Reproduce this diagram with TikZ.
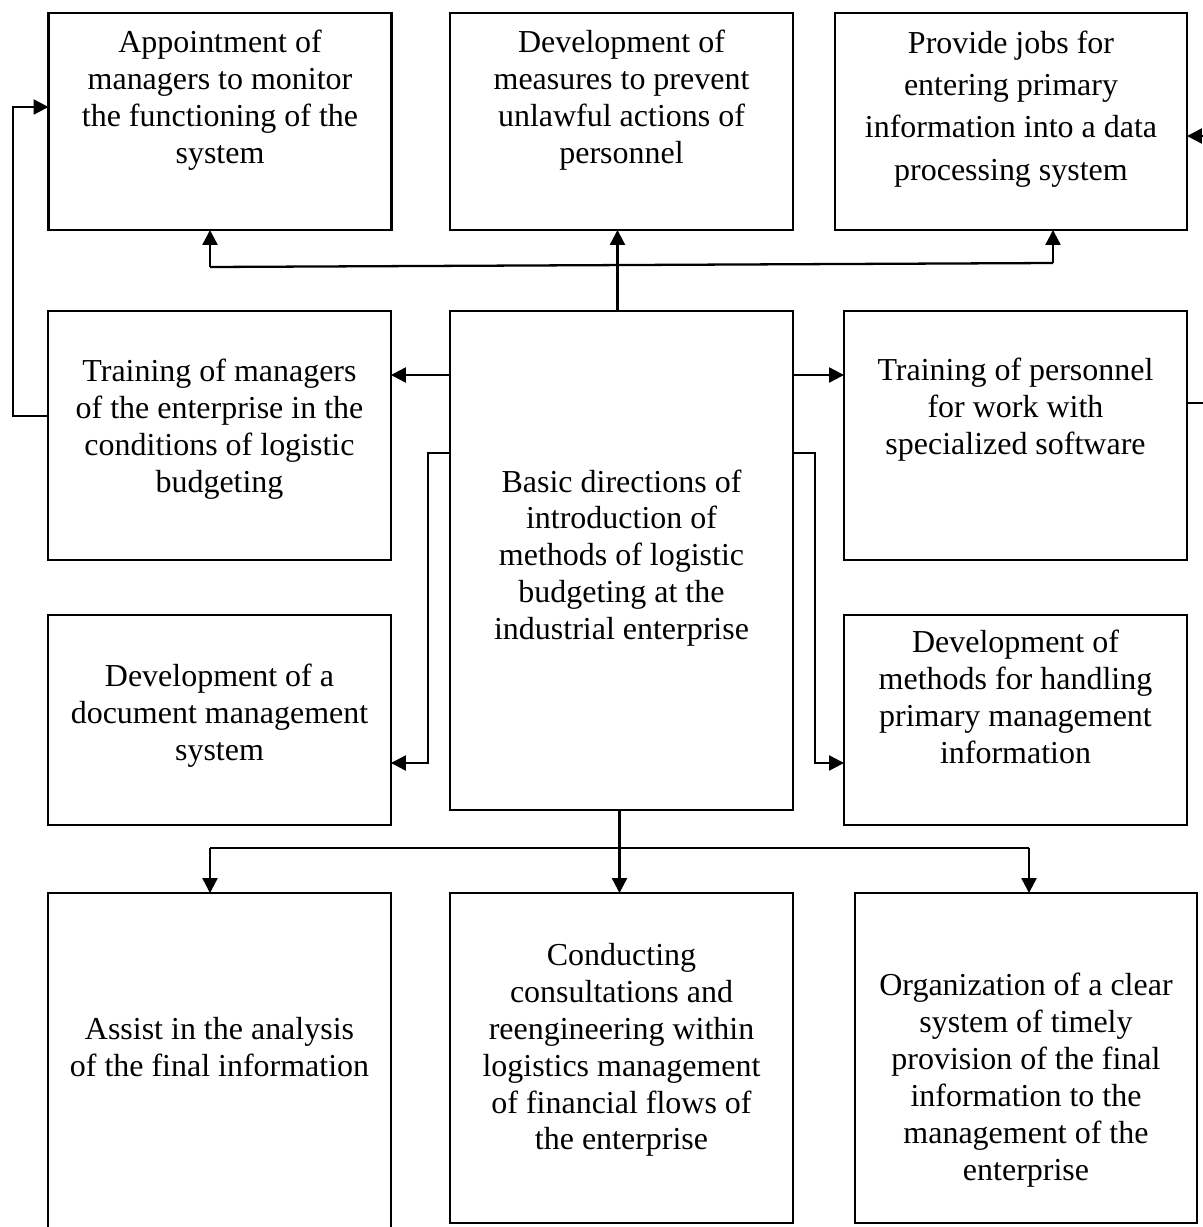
\documentclass[tikz,border=0pt]{standalone}
\usepackage{fontspec}
\setmainfont{Liberation Serif}
\usetikzlibrary{arrows.meta}

\begin{document}
\begin{tikzpicture}[x=0.02cm,y=-0.02cm,line width=1.3pt,
  box/.style={draw,inner sep=0pt,outer sep=0pt,minimum width=6.86cm},
  txt/.style={align=center,inner sep=0pt,font=\fontsize{18.2}{21}\selectfont},
  arr/.style={-{Triangle[length=0.3cm,width=0.3cm]}}]
\useasboundingbox (0,0) rectangle (1203,1227);
% boxes
\node[box,minimum height=4.34cm] (top1) at (220,121.5) {};
\node[box,minimum height=4.34cm] (top2) at (621.5,121.5) {};
\node[box,minimum height=4.34cm,minimum width=7.04cm] (top3) at (1011,121.5) {};
\node[box,minimum height=4.98cm] (midL) at (219.5,435.5) {};
\node[box,minimum height=9.98cm] (center) at (621.5,560.5) {};
\node[box,minimum height=4.98cm] (midR) at (1015.5,435.5) {};
\node[box,minimum height=4.2cm] (lowL) at (219.5,720) {};
\node[box,minimum height=4.2cm] (lowR) at (1015.5,720) {};
\node[box,minimum height=6.94cm] (botL) at (219.5,1066.5) {};
\node[box,minimum height=6.6cm] (botM) at (621.5,1058) {};
\node[box,minimum height=6.6cm,minimum width=6.84cm] (botR) at (1026,1058) {};
% texts
\node[txt] (top1t) at (220,100) {Appointment of\\managers to monitor\\the functioning of the\\system};
\node[txt] (top2t) at (621.5,100) {Development of\\measures to prevent\\unlawful actions of\\personnel};
\node[txt,font=\fontsize{18.2}{24}\selectfont] (top3t) at (1011,109) {Provide jobs for\\entering primary\\information into a data\\processing system};
\node[txt] (midLt) at (219.5,429) {Training of managers\\of the enterprise in the\\conditions of logistic\\budgeting};
\node[txt] (centert) at (621.5,558) {Basic directions of\\introduction of\\methods of logistic\\budgeting at the\\industrial enterprise};
\node[txt] (midRt) at (1015.5,410) {Training of personnel\\for work with\\specialized software};
\node[txt] (lowLt) at (219.5,716) {Development of a\\document management\\system};
\node[txt] (lowRt) at (1015.5,697) {Development of\\methods for handling\\primary management\\information};
\node[txt] (botLt) at (219.5,1047) {Assist in the analysis\\of the final information};
\node[txt] (botMt) at (621.5,1050) {Conducting\\consultations and\\reengineering within\\logistics management\\of financial flows of\\the enterprise};
\node[txt] (botRt) at (1026,1080) {Organization of a clear\\system of timely\\provision of the final\\information to the\\management of the\\enterprise};
% connector points
\coordinate (tbL) at (210,267);
\coordinate (tbR) at (1053,263);
\coordinate (yA) at (0,375);
\coordinate (kL) at (428,453);
\coordinate (kR) at (815,453);
\coordinate (bbL) at (210,848);
\coordinate (bbR) at (1029,848);
\coordinate (lp) at (13,416);
\coordinate (rt) at (1203,136);
\coordinate (rb) at (1203,403);
% top
\draw[arr] ([xshift=-.08cm]center.north) -- ([xshift=-.08cm]top2.south);
\draw (tbL) -- (tbR);
\draw[arr] (tbL) -- (tbL |- top1.south);
\draw[arr] (tbR) -- (tbR |- top3.south);
% sides
\draw[arr] (center.west |- yA) -- (midL.east |- yA);
\draw[arr] (center.east |- yA) -- (midR.west |- yA);
\draw[arr] (center.west |- kL) -- (kL) |- ([yshift=-.86cm]lowL.east);
\draw[arr] (center.east |- kR) -- (kR) |- ([yshift=-.86cm]lowR.west);
% bottom
\draw ([xshift=-.04cm]center.south) -- ([xshift=-.04cm]center.south |- bbL);
\draw (bbL) -- (bbR);
\draw[arr] (bbL) -- (bbL |- botL.north);
\draw[arr] ([xshift=-.04cm]center.south |- bbL) -- ([xshift=-.04cm]botM.north);
\draw[arr] (bbR) -- (bbR |- botR.north);
% outer loops
\draw[arr] (midL.west |- lp) -- (lp) |- ([yshift=.29cm]top1.west);
\draw[arr] (rt) -- (top3.east |- rt);
\draw (midR.east |- rb) -- (rb);
\end{tikzpicture}
\end{document}
